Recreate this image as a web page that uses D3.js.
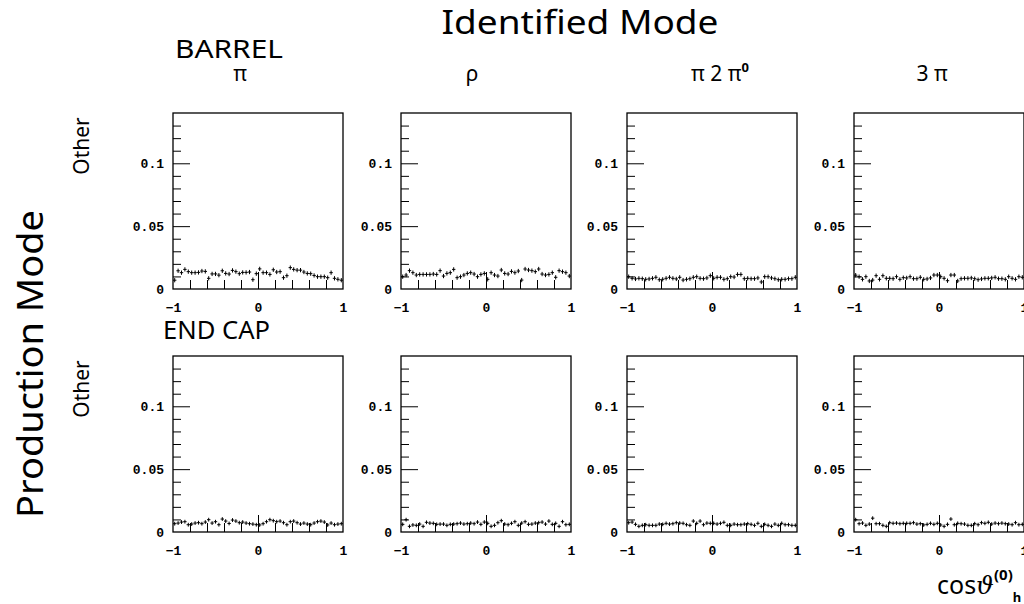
<!DOCTYPE html>
<html>
<head>
<meta charset="utf-8">
<script src="https://cdn.jsdelivr.net/npm/d3@7"></script>
<style>
  html, body { margin: 0; padding: 0; background: #fff; }
  svg { display: block; }
  .tick text { font-family: "Liberation Mono", "DejaVu Sans Mono", monospace; font-weight: bold; font-size: 13px; fill: #000; }
  .title { font-family: "Noto Sans", "DejaVu Sans", sans-serif; fill: #000; }
</style>
</head>
<body>
<svg id="chart" width="1024" height="604"></svg>
<script>
// Column headers (identified decay mode) and row headers (production mode)
const identifiedModes = ["π", "ρ", "π 2 π⁰", "3 π"];
const productionModes = ["Other", "Other"];
const regions = ["BARREL", "END CAP"];

// cos(theta) histogram: 50 bins over [-1, 1]
const binEdges = [-1, 1];
const nBins = 50;

// Axis ticks
const yMajorTicks = [0, 0.05, 0.1];
const yMinorTicks = [0.01, 0.02, 0.03, 0.04, 0.06, 0.07, 0.08, 0.09, 0.11, 0.12, 0.13];
const xMinorTicks = [-0.8, -0.6, -0.4, -0.2, 0.2, 0.4, 0.6, 0.8];
const xMajorTicks = [0];
const xLabels = [-1, 0, 1];
const yMax = 0.14;

// Bin contents, row "Other" (barrel)
const barrelPi = [0.007,0.0145,0.013,0.0156,0.0138,0.013,0.013,0.0132,0.0143,0.014,0.0085,0.012,0.012,0.011,0.0145,0.0124,0.0119,0.0148,0.0138,0.0122,0.0132,0.0132,0.0135,0.0074,0.0122,0.016,0.013,0.013,0.0116,0.0153,0.0135,0.0138,0.009,0.0106,0.017,0.0156,0.015,0.015,0.0135,0.0124,0.0122,0.0108,0.0098,0.0098,0.0098,0.009,0.013,0.0085,0.0077,0.007];
const barrelRho = [0.0098,0.0111,0.0146,0.013,0.0111,0.0116,0.0116,0.0116,0.0116,0.0119,0.0116,0.0146,0.0103,0.0124,0.013,0.0156,0.009,0.0098,0.0111,0.0124,0.013,0.0119,0.0098,0.0116,0.0124,0.0077,0.013,0.0111,0.0103,0.0151,0.0124,0.0119,0.014,0.013,0.0143,0.0071,0.0159,0.0151,0.0146,0.0138,0.0159,0.0119,0.0111,0.0116,0.013,0.0093,0.0146,0.0138,0.013,0.0103];
const barrelPi2Pi0 = [0.0098,0.0085,0.008,0.0085,0.0082,0.0077,0.008,0.0085,0.0093,0.0074,0.0077,0.0085,0.0093,0.0085,0.008,0.0093,0.0071,0.0077,0.0082,0.0093,0.0098,0.0085,0.0082,0.0088,0.0106,0.0085,0.0093,0.0093,0.0077,0.0082,0.0098,0.0095,0.0116,0.0116,0.0082,0.0085,0.0082,0.0082,0.0088,0.0056,0.0098,0.0098,0.0088,0.0082,0.0074,0.0077,0.0077,0.0082,0.0082,0.0093];
const barrel3Pi = [0.011,0.0098,0.0077,0.0098,0.0064,0.0071,0.0106,0.0077,0.0106,0.0085,0.0085,0.0082,0.0098,0.0077,0.009,0.0088,0.0098,0.0082,0.0082,0.0093,0.0077,0.008,0.0088,0.0111,0.0111,0.0098,0.0085,0.0066,0.0111,0.0111,0.0064,0.0082,0.0085,0.0085,0.0088,0.0082,0.0074,0.008,0.0085,0.0085,0.0088,0.0093,0.0082,0.0082,0.0077,0.0098,0.0085,0.0077,0.0098,0.0093];

// Bin contents, row "Other" (end cap)
const endcapPi = [0.0066,0.0071,0.0079,0.0082,0.0058,0.0063,0.0071,0.0074,0.0066,0.0079,0.0098,0.0071,0.0082,0.0058,0.0103,0.0087,0.0068,0.0095,0.0087,0.0074,0.0079,0.0071,0.0066,0.0063,0.0058,0.0056,0.0066,0.0082,0.0098,0.009,0.0082,0.0087,0.0074,0.0058,0.0082,0.0087,0.0074,0.0063,0.0071,0.0063,0.0058,0.0071,0.0082,0.0087,0.0079,0.0056,0.0071,0.0058,0.0063,0.0066];
const endcapRho = [0.0061,0.0098,0.0045,0.0056,0.0053,0.0063,0.0045,0.0077,0.0071,0.0069,0.0061,0.0063,0.0063,0.0053,0.0061,0.0063,0.0066,0.0071,0.0063,0.0066,0.0071,0.0066,0.0079,0.0061,0.0079,0.0069,0.0045,0.0053,0.0074,0.009,0.0063,0.0058,0.0069,0.0082,0.0053,0.0071,0.0082,0.0061,0.0063,0.0071,0.0074,0.0079,0.0063,0.0087,0.0061,0.0069,0.0045,0.0082,0.0058,0.0061];
const endcapPi2Pi0 = [0.0074,0.0079,0.0061,0.0045,0.0053,0.0058,0.0053,0.0053,0.0053,0.0063,0.0061,0.0069,0.0063,0.0066,0.0074,0.0071,0.0069,0.0058,0.0053,0.0087,0.0069,0.0087,0.0058,0.0071,0.0069,0.0069,0.0063,0.0069,0.0077,0.0053,0.0053,0.0063,0.0058,0.0058,0.0063,0.0066,0.0061,0.0053,0.0069,0.0045,0.0061,0.0053,0.0045,0.0063,0.0053,0.0069,0.0058,0.0058,0.0053,0.0053];
const endcap3Pi = [0.0098,0.0066,0.0071,0.0053,0.0063,0.011,0.0066,0.0066,0.0053,0.0045,0.0074,0.0069,0.0071,0.0066,0.0069,0.0069,0.0069,0.0074,0.0063,0.0066,0.0056,0.0061,0.0069,0.0061,0.0069,0.0056,0.0045,0.0061,0.0103,0.0058,0.0069,0.0066,0.0063,0.0053,0.0053,0.0066,0.0058,0.0074,0.0069,0.0077,0.0063,0.0071,0.0066,0.0071,0.0066,0.0063,0.0058,0.0074,0.0058,0.0061];

// Typical statistical error per bin in each row
const rowErrors = [0.0017, 0.0015];

const panels = [
  [barrelPi, barrelRho, barrelPi2Pi0, barrel3Pi],
  [endcapPi, endcapRho, endcapPi2Pi0, endcap3Pi]
];

const svg = d3.select("#chart");

// Panel grid layout
const colX = [173, 401, 627, 854];
const rowY = [113, 356];
const pw = 170, ph = 176;

const x = d3.scaleLinear().domain(binEdges).range([0, pw]);
const y = d3.scaleLinear().domain([0, yMax]).range([ph, 0]);
const binW = (binEdges[1] - binEdges[0]) / nBins;

const fmtY = v => v === 0 ? "0" : (v === 0.05 ? "0.05" : "0.1");

panels.forEach((row, r) => {
  row.forEach((vals, c) => {
    const g = svg.append("g").attr("transform", `translate(${colX[c]},${rowY[r]})`);

    // frame
    g.append("rect").attr("x", 0).attr("y", 0).attr("width", pw).attr("height", ph)
      .attr("fill", "none").attr("stroke", "#000").attr("stroke-width", 1.3);

    // inward y ticks
    g.append("g").call(d3.axisRight(y).tickValues(yMinorTicks).tickSize(8).tickFormat(""))
      .call(a => a.select(".domain").remove());
    g.append("g").call(d3.axisRight(y).tickValues(yMajorTicks.filter(v => v > 0)).tickSize(17).tickFormat(""))
      .call(a => a.select(".domain").remove());
    // y labels
    g.append("g").call(d3.axisLeft(y).tickValues(yMajorTicks).tickSize(0).tickPadding(9).tickFormat(fmtY))
      .call(a => a.select(".domain").remove());

    // inward x ticks at the bottom
    g.append("g").attr("transform", `translate(0,${ph})`)
      .call(d3.axisTop(x).tickValues(xMinorTicks).tickSize(9).tickFormat(""))
      .call(a => a.select(".domain").remove());
    g.append("g").attr("transform", `translate(0,${ph})`)
      .call(d3.axisTop(x).tickValues(xMajorTicks).tickSize(17).tickFormat(""))
      .call(a => a.select(".domain").remove());
    // x labels
    g.append("g").attr("transform", `translate(0,${ph})`)
      .call(d3.axisBottom(x).tickValues(xLabels).tickSize(0).tickPadding(14).tickFormat(d3.format("d")))
      .call(a => a.select(".domain").remove());

    g.selectAll(".tick line").attr("stroke", "#000");

    // error-bar markers
    const err = rowErrors[r];
    const pts = g.append("g").attr("stroke", "#000").attr("stroke-width", 1);
    vals.forEach((v, i) => {
      const lo = binEdges[0] + i * binW;
      const xc = x(lo + binW / 2);
      pts.append("line").attr("x1", x(lo)).attr("x2", x(lo + binW))
        .attr("y1", y(v)).attr("y2", y(v));
      pts.append("line").attr("x1", xc).attr("x2", xc)
        .attr("y1", y(v - err)).attr("y2", y(v + err));
    });
  });
});

// Titles
svg.append("text").attr("class", "title").attr("x", 580).attr("y", 34)
  .attr("text-anchor", "middle").attr("font-size", 32)
  .attr("textLength", 277).attr("lengthAdjust", "spacingAndGlyphs").text("Identified Mode");

const headerX = [240, 472, 720, 932];
identifiedModes.forEach((t, i) => {
  const tx = svg.append("text").attr("class", "title").attr("x", headerX[i]).attr("y", 81)
    .attr("text-anchor", "middle").attr("font-size", 21);
  if (t.includes("⁰")) {
    tx.append("tspan").text("π 2 π");
    tx.append("tspan").attr("font-size", 13).attr("dy", -9).attr("font-weight", "bold").text("0");
  } else {
    tx.text(t);
  }
});

svg.append("text").attr("class", "title").attr("x", 175).attr("y", 58)
  .attr("font-size", 25).attr("textLength", 108).attr("lengthAdjust", "spacingAndGlyphs").text(regions[0]);
svg.append("text").attr("class", "title").attr("x", 163).attr("y", 339)
  .attr("font-size", 25).attr("textLength", 107).attr("lengthAdjust", "spacingAndGlyphs").text(regions[1]);

svg.append("text").attr("class", "title")
  .attr("transform", "translate(43,364) rotate(-90)")
  .attr("text-anchor", "middle").attr("font-size", 36)
  .attr("textLength", 308).attr("lengthAdjust", "spacingAndGlyphs").text("Production Mode");

const otherY = [146, 389];
productionModes.forEach((t, i) => {
  svg.append("text").attr("class", "title")
    .attr("transform", `translate(89,${otherY[i]}) rotate(-90)`)
    .attr("text-anchor", "middle").attr("font-size", 21).text(t);
});

// x-axis title
const xt = svg.append("text").attr("class", "title").attr("x", 937).attr("y", 594).attr("font-size", 25);
xt.append("tspan").text("cos");
xt.append("tspan").attr("font-family", "DejaVu Serif").attr("font-style", "italic").text("ϑ");
xt.append("tspan").attr("font-size", 15).attr("font-weight", "bold").attr("dy", -14).text("(0)");
xt.append("tspan").attr("font-size", 13).attr("font-weight", "bold").attr("dy", 22).text("h");
</script>
</body>
</html>
